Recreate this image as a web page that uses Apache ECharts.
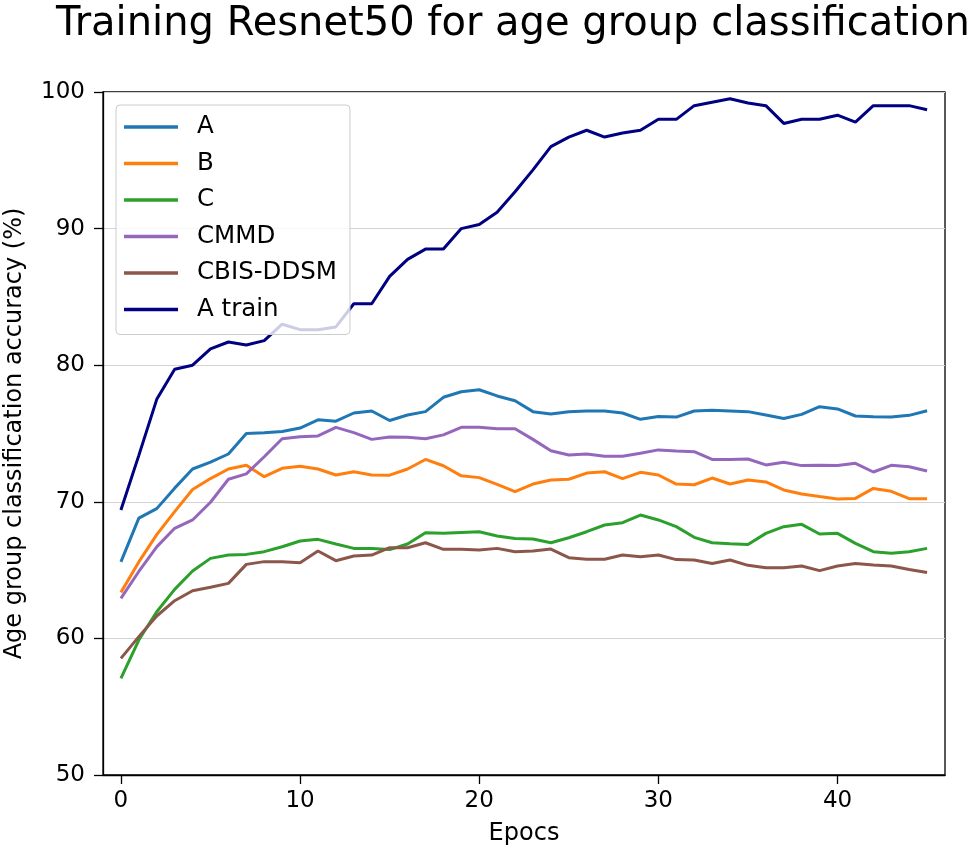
<!DOCTYPE html>
<html>
<head>
<meta charset="utf-8">
<script src="https://cdn.jsdelivr.net/npm/echarts@6/dist/echarts.min.js"></script>
<style>
html,body{margin:0;padding:0;background:#fff;}
#main{width:968px;height:855px;}
</style>
</head>
<body>
<div id="main"></div>
<script>
const epochs = [0,1,2,3,4,5,6,7,8,9,10,11,12,13,14,15,16,17,18,19,20,21,22,23,24,25,26,27,28,29,30,31,32,33,34,35,36,37,38,39,40,41,42,43,44,45];

const seriesNames = ['A', 'B', 'C', 'CMMD', 'CBIS-DDSM', 'A train'];

const valuesA = [65.6,68.8,69.5,71.0,72.4,72.9,73.5,75.0,75.06,75.14,75.4,76.0,75.9,76.5,76.65,75.95,76.35,76.6,77.65,78.06,78.2,77.75,77.4,76.6,76.43,76.6,76.65,76.65,76.5,76.04,76.25,76.2,76.65,76.7,76.65,76.6,76.36,76.1,76.4,76.96,76.8,76.28,76.23,76.2,76.33,76.67];

const valuesB = [63.37,65.6,67.6,69.28,70.9,71.7,72.4,72.67,71.84,72.45,72.6,72.4,71.96,72.2,71.96,71.95,72.4,73.1,72.64,71.9,71.77,71.28,70.74,71.3,71.6,71.65,72.1,72.2,71.7,72.16,71.96,71.3,71.25,71.74,71.3,71.6,71.45,70.87,70.57,70.38,70.2,70.25,70.98,70.77,70.23,70.23];

const valuesC = [57.08,59.88,61.95,63.59,64.93,65.86,66.1,66.15,66.35,66.71,67.13,67.25,66.91,66.59,66.59,66.5,66.91,67.74,67.69,67.76,67.81,67.5,67.32,67.28,67.0,67.37,67.81,68.3,68.47,69.03,68.67,68.18,67.4,67.0,66.93,66.88,67.69,68.18,68.35,67.64,67.69,66.96,66.35,66.23,66.35,66.59];

const valuesCMMD = [62.93,64.9,66.7,68.06,68.67,69.97,71.65,72.04,73.3,74.62,74.77,74.82,75.45,75.06,74.57,74.75,74.72,74.62,74.9,75.45,75.45,75.35,75.35,74.57,73.74,73.43,73.5,73.33,73.33,73.55,73.8,73.72,73.67,73.1,73.1,73.13,72.7,72.9,72.65,72.67,72.65,72.82,72.18,72.67,72.57,72.25];

const valuesCBIS = [58.54,60.13,61.64,62.76,63.49,63.74,64.03,65.42,65.62,65.62,65.54,66.4,65.69,66.03,66.1,66.64,66.64,67.0,66.52,66.52,66.47,66.59,66.35,66.4,66.54,65.91,65.79,65.79,66.1,65.98,66.1,65.77,65.74,65.49,65.74,65.35,65.18,65.18,65.3,64.96,65.3,65.49,65.37,65.3,65.05,64.83];

const valuesATrain = [69.4,73.4,77.5,79.7,80.0,81.2,81.7,81.48,81.8,83.0,82.6,82.6,82.8,84.5,84.5,86.5,87.75,88.5,88.5,90.0,90.3,91.2,92.7,94.3,96.0,96.7,97.2,96.7,97.0,97.2,98.0,98.0,99.0,99.25,99.5,99.2,99.0,97.7,98.0,98.0,98.3,97.8,99.0,99.0,99.0,98.7];

const xTickValues = [0,10,20,30,40];
const yTickValues = [50,60,70,80,90,100];

const colors = ['#1f77b4', '#ff7f0e', '#2ca02c', '#9467bd', '#8c564b', '#000080'];
const allValues = [valuesA, valuesB, valuesC, valuesCMMD, valuesCBIS, valuesATrain];

const FONT = 'DejaVu Sans';

const series = seriesNames.map((name, i) => ({
  name: name,
  type: 'line',
  data: epochs.map((e, j) => [e, allValues[i][j]]),
  showSymbol: false,
  symbol: 'none',
  lineStyle: { color: colors[i], width: 3 },
  itemStyle: { color: colors[i] },
  z: 2 + i
}));

const chart = echarts.init(document.getElementById('main'), null, { renderer: 'canvas' });
chart.setOption({
  animation: false,
  backgroundColor: '#ffffff',
  textStyle: { fontFamily: FONT },
  title: {
    text: 'Training Resnet50 for age group classification',
    left: 508,
    textAlign: 'center',
    top: 0,
    textStyle: { fontFamily: FONT, fontSize: 40, fontWeight: 'normal', color: '#000' }
  },
  grid: {
    left: 103, top: 92, right: 23, bottom: 80,
    containLabel: false,
    outerBoundsMode: 'none',
    show: true, borderColor: '#000', borderWidth: 1.3, backgroundColor: 'transparent'
  },
  legend: {
    orient: 'vertical',
    left: 116,
    top: 105,
    data: seriesNames,
    icon: 'rect',
    itemWidth: 54,
    itemHeight: 3.5,
    itemGap: 10.5,
    padding: [9, 13, 12, 8],
    backgroundColor: 'rgba(255,255,255,0.8)',
    borderColor: '#cccccc',
    borderWidth: 1,
    borderRadius: 4,
    textStyle: { fontFamily: FONT, fontSize: 24.5, lineHeight: 26, color: '#000', padding: [0, 0, 0, 14] },
    z: 20
  },
  xAxis: {
    type: 'value',
    min: -1,
    max: 46,
    name: 'Epocs',
    nameLocation: 'middle',
    nameGap: 47,
    nameTextStyle: { fontFamily: FONT, fontSize: 24, color: '#000' },
    axisLine: { show: true, onZero: false, lineStyle: { color: '#000', width: 1.3 } },
    axisTick: { show: true, inside: false, length: 9, customValues: xTickValues, lineStyle: { color: '#000', width: 1.3 } },
    axisLabel: { customValues: xTickValues, fontFamily: FONT, fontSize: 23, color: '#000', margin: 15 },
    splitLine: { show: false }
  },
  yAxis: {
    type: 'value',
    min: 50,
    max: 100,
    interval: 5,
    name: 'Age group classification accuracy (%)',
    nameLocation: 'middle',
    nameRotate: 90,
    nameGap: 76,
    nameTextStyle: { fontFamily: FONT, fontSize: 24, color: '#000' },
    axisLine: { show: true, onZero: false, lineStyle: { color: '#000', width: 1.3 } },
    axisTick: { show: true, inside: false, length: 9, customValues: yTickValues, lineStyle: { color: '#000', width: 1.3 } },
    axisLabel: { customValues: yTickValues, fontFamily: FONT, fontSize: 23, color: '#000', margin: 18 },
    splitLine: { show: true, lineStyle: { color: '#d3d3d3', width: 1 } }
  },
  series: series
});
</script>
</body>
</html>
